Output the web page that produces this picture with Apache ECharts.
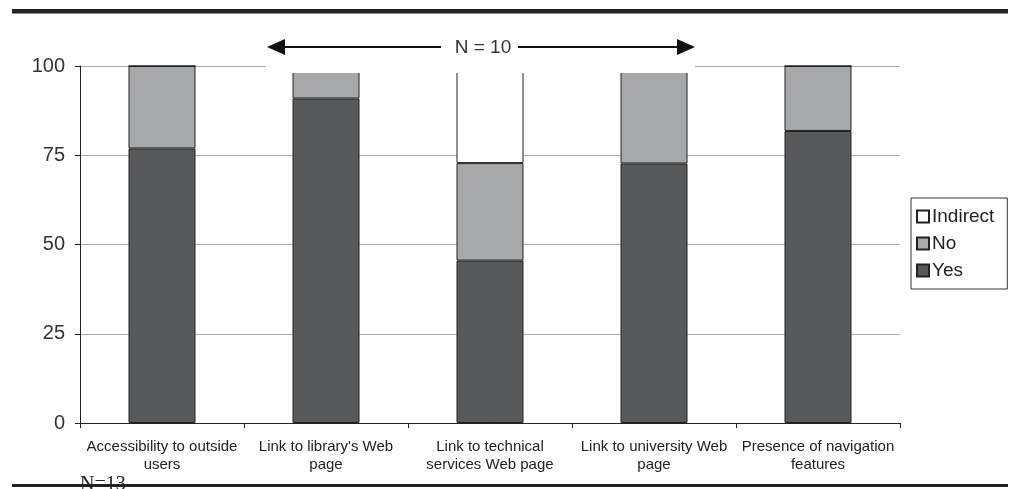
<!DOCTYPE html>
<html>
<head>
<meta charset="utf-8">
<script src="https://cdn.jsdelivr.net/npm/echarts@6/dist/echarts.min.js"></script>
<style>html,body{margin:0;padding:0;background:#fff;}#c{width:1013px;height:489px;}</style>
</head>
<body>
<div id="c"></div>
<script>
const categories = ["Accessibility to outside\nusers", "Link to library's Web\npage", "Link to technical\nservices Web page", "Link to university Web\npage", "Presence of navigation\nfeatures"];
const yesValues = [76.9, 90.9, 45.5, 72.7, 81.8];
const noValues = [23.1, 9.1, 27.3, 27.3, 18.2];
const indirectValues = [0, 0, 27.3, 0, 0];
const yTicks = [0, 25, 50, 75, 100];

const chart = echarts.init(document.getElementById('c'), null, {renderer: 'canvas'});
const font = 'Liberation Sans, Arial, sans-serif';
const border = {borderColor: '#222', borderWidth: 1};
chart.setOption({
  animation: false,
  backgroundColor: '#fff',
  grid: {left: 80, right: 113, top: 66, bottom: 66},
  legend: {
    orient: 'vertical', left: 911, top: 198,
    data: ['Indirect', 'No', 'Yes'],
    icon: 'rect', itemWidth: 12, itemHeight: 12, itemGap: 8,
    padding: [9, 13, 9, 5],
    borderColor: '#333', borderWidth: 1,
    textStyle: {fontFamily: font, fontSize: 19, color: '#222', padding: [0, 0, 0, -2]}
  },
  xAxis: {
    type: 'category', data: categories,
    axisLine: {lineStyle: {color: '#222', width: 1}},
    axisTick: {show: true, length: 5, lineStyle: {color: '#222'}},
    axisLabel: {fontFamily: font, fontSize: 15, color: '#222', lineHeight: 18, margin: 15, interval: 0}
  },
  yAxis: {
    type: 'value', min: 0, max: 100, interval: 25,
    axisLine: {show: true, lineStyle: {color: '#222', width: 1}},
    axisTick: {show: true, length: 5, lineStyle: {color: '#222'}},
    axisLabel: {fontFamily: font, fontSize: 20, color: '#333', margin: 15,
      formatter: v => yTicks.includes(v) ? String(v) : ''},
    splitLine: {lineStyle: {color: '#aaa', width: 1}}
  },
  series: [
    {name: 'Yes', type: 'bar', stack: 's', barWidth: 67, data: yesValues, itemStyle: Object.assign({color: '#58595b'}, border)},
    {name: 'No', type: 'bar', stack: 's', barWidth: 67, data: noValues, itemStyle: Object.assign({color: '#a6a8aa'}, border)},
    {name: 'Indirect', type: 'bar', stack: 's', barWidth: 67, data: indirectValues, itemStyle: Object.assign({color: '#ffffff'}, border)}
  ],
  graphic: [
    {type: 'rect', z: 100, shape: {x: 266, y: 18, width: 429, height: 55}, style: {fill: '#fff'}},
    {type: 'line', z: 101, shape: {x1: 282, y1: 47, x2: 441, y2: 47}, style: {stroke: '#111', lineWidth: 2}},
    {type: 'line', z: 101, shape: {x1: 518, y1: 47, x2: 680, y2: 47}, style: {stroke: '#111', lineWidth: 2}},
    {type: 'polygon', z: 101, shape: {points: [[267, 47], [285, 39], [285, 55]]}, style: {fill: '#111'}},
    {type: 'polygon', z: 101, shape: {points: [[695, 47], [677, 39], [677, 55]]}, style: {fill: '#111'}},
    {type: 'text', z: 101, style: {x: 483, y: 48, text: 'N = 10', fill: '#333', font: '19px ' + font, textAlign: 'center', textVerticalAlign: 'middle'}},
    {type: 'rect', z: 100, shape: {x: 12, y: 9, width: 996, height: 4.5}, style: {fill: '#222'}},
    {type: 'text', z: 100, style: {x: 80, y: 495, text: 'N=13', fill: '#222', font: '20px "Liberation Serif", "Times New Roman", serif', textAlign: 'left', textVerticalAlign: 'bottom'}},
    {type: 'rect', z: 101, shape: {x: 12, y: 484, width: 996, height: 3}, style: {fill: '#222'}}
  ]
});
</script>
</body>
</html>
